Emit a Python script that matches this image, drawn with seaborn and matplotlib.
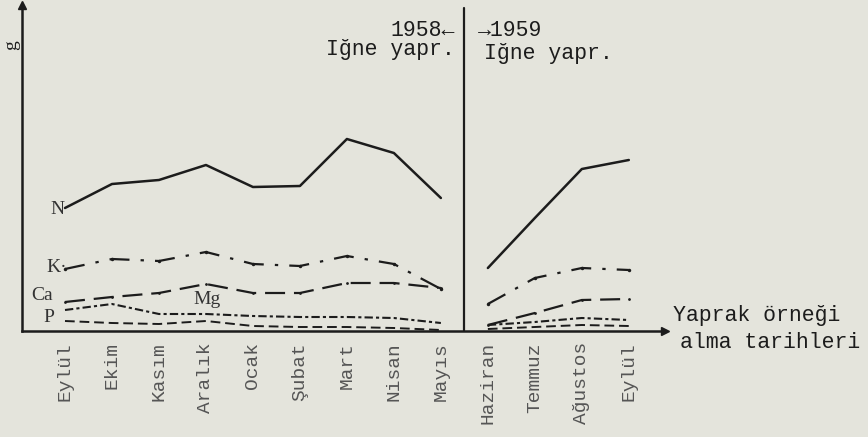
import matplotlib
matplotlib.use("Agg")
import matplotlib.pyplot as plt
import seaborn as sns
import pandas as pd

# sampling months (1958 needles: Eylül..Mayıs, 1959 needles: Haziran..Eylül)
months = ["Eylül", "Ekim", "Kasım", "Aralık", "Ocak", "Şubat", "Mart", "Nisan", "Mayıs",
          "Haziran", "Temmuz", "Ağustos", "Eylül"]
pos_1958 = [0, 1, 2, 3, 4, 5, 6, 7, 8]
pos_1959 = [9, 10, 11, 12]

# nutrient amounts (g, arbitrary scale)
n_1958 = [12.3, 14.7, 15.1, 16.6, 14.4, 14.5, 19.2, 17.8, 13.3]
n_1959 = [6.3, 11.3, 16.2, 17.1]
k_1958 = [6.2, 7.2, 7.0, 7.9, 6.7, 6.5, 7.5, 6.7, 4.2]
k_1959 = [2.7, 5.3, 6.3, 6.1]
ca_1958 = [2.9, 3.4, 3.8, 4.7, 3.8, 3.8, 4.8, 4.8, 4.3]
ca_1959 = [0.6, 1.8, 3.1, 3.2]
mg_1958 = [2.1, 2.7, 1.7, 1.7, 1.5, 1.4, 1.4, 1.3, 0.8]
mg_1959 = [0.6, 0.9, 1.3, 1.1]
p_1958 = [1.0, 0.8, 0.7, 1.0, 0.5, 0.4, 0.4, 0.3, 0.1]
p_1959 = [0.2, 0.4, 0.6, 0.5]

sns.set_style("white")
bg = "#e4e4dc"
ink = "#1c1c1c"
plt.rcParams["font.family"] = ["Liberation Mono", "DejaVu Sans"]

fig = plt.figure(figsize=(8.68, 4.37), dpi=100, facecolor=bg)
ax = fig.add_axes([22 / 868, 1 - 331 / 437, (665 - 22) / 868, (331 - 5) / 437])
ax.set_facecolor(bg)

styles = {
    "N": dict(ls="-", lw=1.8, marker=None),
    "K": dict(ls=(0, (9, 5, 1.5, 5)), lw=1.6, marker="o", ms=2.5),
    "Ca": dict(ls=(0, (9, 4)), lw=1.6, marker="o", ms=2),
    "Mg": dict(ls=(0, (4, 1.5, 1.5, 1.5)), lw=1.5, marker=None),
    "P": dict(ls=(0, (5, 2.5)), lw=1.4, marker=None),
}
series = {
    "N": (n_1958, n_1959),
    "K": (k_1958, k_1959),
    "Ca": (ca_1958, ca_1959),
    "Mg": (mg_1958, mg_1959),
    "P": (p_1958, p_1959),
}

for name, (v58, v59) in series.items():
    st = styles[name]
    for xs, vs in ((pos_1958, v58), (pos_1959, v59)):
        df = pd.DataFrame({"x": xs, "y": vs})
        sns.lineplot(data=df, x="x", y="y", ax=ax, color=ink, linewidth=st["lw"],
                     linestyle=st["ls"], marker=st["marker"], markersize=st.get("ms", 0),
                     markeredgewidth=0)

ax.set_xlim(-0.915, 12.77)
ax.set_ylim(0, 32.6)
ax.axvline(8.5, ymin=0, ymax=0.99, color=ink, lw=1.6)

for s in ["top", "right"]:
    ax.spines[s].set_visible(False)
for s in ["left", "bottom"]:
    ax.spines[s].set_color(ink)
    ax.spines[s].set_linewidth(1.8)
ax.plot([0], [1], marker="^", color=ink, ms=6, transform=ax.transAxes, clip_on=False)
ax.plot([1], [0], marker=">", color=ink, ms=6, transform=ax.transAxes, clip_on=False)

ax.set_yticks([])
ax.set_xticks(range(len(months)))
ax.set_xticklabels(months, rotation=90, va="top", fontsize=14, color="#555555")
ax.tick_params(axis="x", length=0, pad=8)
ax.set_xlabel("")
ax.set_ylabel("")

def ftext(x, y, s, **kw):
    fig.text(x / 868, 1 - y / 437, s, **kw)

ftext(12, 45, "g", fontsize=14, color=ink, rotation=90, ha="center", va="center",
      family="Liberation Serif")
serif = dict(family="Liberation Serif", color="#333333", fontsize=14, va="center")
ftext(50, 210, "N", **serif)
ftext(46, 268, "K·", **serif)
ftext(31, 295, "Ca", **serif)
ftext(43, 317, "P", **serif)
ftext(193, 300, "Mg", **serif)

mono = dict(color=ink, fontsize=15.5, va="center")
ftext(455, 30, "1958←", ha="right", **mono)
ftext(455, 50, "Iğne yapr.", ha="right", **mono)
ftext(478, 30, "→1959", ha="left", **mono)
ftext(484, 53, "Iğne yapr.", ha="left", **mono)
ftext(673, 315, "Yaprak örneği", ha="left", **mono)
ftext(680, 343, "alma tarihleri", ha="left", **mono)

fig.savefig("out.png", dpi=100, facecolor=bg)
